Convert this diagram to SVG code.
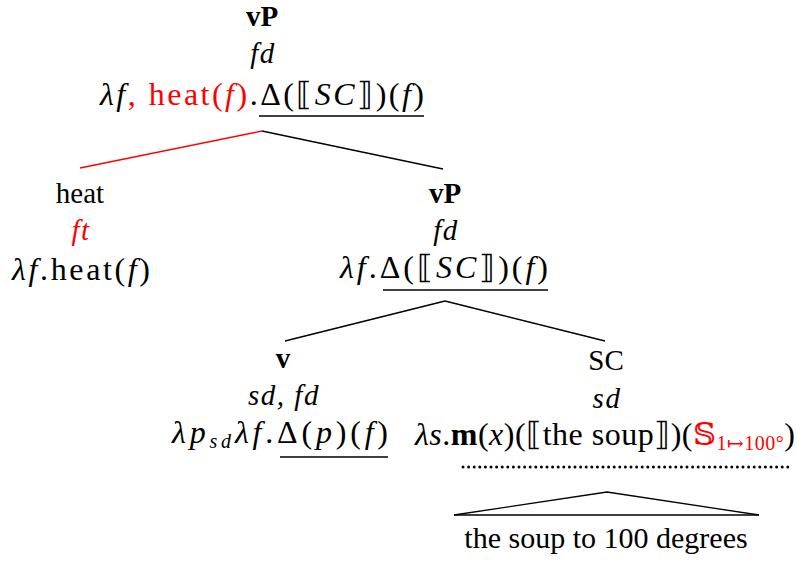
<svg xmlns="http://www.w3.org/2000/svg" width="797" height="561" viewBox="0 0 797 561">
<style>
text{font-family:"Liberation Serif","DejaVu Serif",serif;font-size:29px;fill:#000}
.b{font-weight:bold}
.i{font-style:italic}
.r{fill:#f00}
.m{text-anchor:middle}
.ls{letter-spacing:1.5px}
.mt{font-size:32px}
.sub{font-size:20px}
.edge{stroke:#000;stroke-width:1.3;fill:none}
.ul{stroke:#000;stroke-width:1.3}
</style>
<rect width="797" height="561" fill="#fff"/>
<g id="connectors">
<line x1="262" y1="131" x2="80" y2="168" stroke="#f00" stroke-width="1.3"/>
<line class="edge" x1="262" y1="131" x2="443" y2="169"/>
<line class="edge" x1="445" y1="301" x2="285" y2="341"/>
<line class="edge" x1="445" y1="301" x2="605" y2="341"/>
<polyline class="edge" points="454,515 607,492 759,515"/>
<line class="ul" x1="454" y1="515" x2="759" y2="515"/>
</g>
<g id="node-vP-top">
<text class="b m" x="262" y="26">vP</text>
<text class="i m ls" x="263" y="63">fd</text>
<text class="mt" x="100" y="105" textLength="324" lengthAdjust="spacing"><tspan class="i">λf</tspan><tspan class="r">, heat(</tspan><tspan class="i r">f</tspan><tspan class="r">)</tspan>.Δ(⟦<tspan class="i">SC</tspan>⟧)(<tspan class="i">f</tspan>)</text>
<line class="ul" x1="259" y1="116" x2="424" y2="116"/>
</g>
<g id="node-heat">
<text class="m" x="80" y="203">heat</text>
<text class="i m r ls" x="81" y="240">ft</text>
<text class="mt" x="12" y="280" textLength="138" lengthAdjust="spacing"><tspan class="i">λf</tspan>.heat(<tspan class="i">f</tspan>)</text>
</g>
<g id="node-vP-mid">
<text class="b m" x="445" y="203">vP</text>
<text class="i m ls" x="446" y="240">fd</text>
<text class="mt" x="340" y="278" textLength="208" lengthAdjust="spacing"><tspan class="i">λf</tspan>.Δ(⟦<tspan class="i">SC</tspan>⟧)(<tspan class="i">f</tspan>)</text>
<line class="ul" x1="383" y1="290" x2="548" y2="290"/>
</g>
<g id="node-v">
<text class="b m" x="283" y="368">v</text>
<text class="i m ls" x="284" y="405">sd, fd</text>
<text class="mt" x="172" y="443" textLength="216" lengthAdjust="spacing"><tspan class="i">λp</tspan><tspan class="i sub" dy="5">sd</tspan><tspan class="i" dy="-5">λf</tspan>.Δ(<tspan class="i">p</tspan>)(<tspan class="i">f</tspan>)</text>
<line class="ul" x1="280" y1="457" x2="388" y2="457"/>
</g>
<g id="node-SC">
<text class="m" x="606" y="370">SC</text>
<text class="i m ls" x="607" y="408">sd</text>
<text class="mt" x="415" y="445" textLength="380" lengthAdjust="spacing"><tspan class="i">λs</tspan>.<tspan class="b">m</tspan>(<tspan class="i">x</tspan>)(⟦the soup⟧)(<tspan class="r">𝕊</tspan><tspan class="r sub" dy="5">1↦100°</tspan><tspan dy="-5">)</tspan></text>
<line x1="463" y1="467" x2="792" y2="467" stroke="#000" stroke-width="3" stroke-dasharray="0 5.6" stroke-linecap="round"/>
</g>
<g id="node-leaf">
<text class="m" x="606" y="548" style="font-size:30px">the soup to 100 degrees</text>
</g>
</svg>
